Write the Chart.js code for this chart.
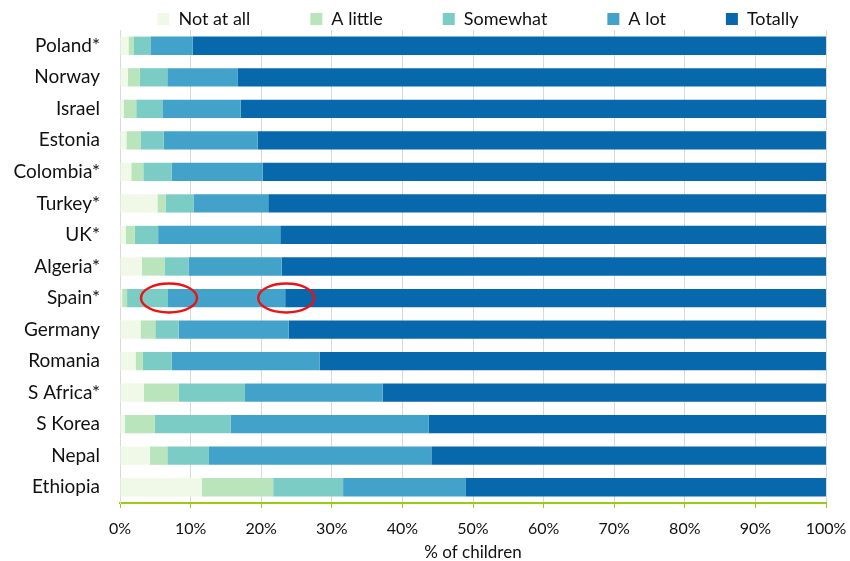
<!DOCTYPE html>
<html>
<head>
<meta charset="utf-8">
<script src="https://cdn.jsdelivr.net/npm/chart.js@4.4.1/dist/chart.umd.min.js"></script>
<style>
  html, body { margin: 0; padding: 0; background: #ffffff; }
  #wrap { width: 850px; height: 561px; position: relative; }
</style>
</head>
<body>
<div id="wrap"><canvas id="c" width="850" height="561"></canvas></div>
<script>
const countries = ["Poland*", "Norway", "Israel", "Estonia", "Colombia*", "Turkey*", "UK*", "Algeria*", "Spain*", "Germany", "Romania", "S Africa*", "S Korea", "Nepal", "Ethiopia"];
const seriesNames = ["Not at all", "A little", "Somewhat", "A lot", "Totally"];
const notAtAll = [1.2, 1.1, 0.5, 0.9, 1.6, 5.3, 0.8, 3.1, 0.3, 2.9, 2.2, 3.4, 0.7, 4.2, 11.6];
const aLittle  = [0.7, 1.7, 1.8, 2.0, 1.7, 1.2, 1.3, 3.2, 0.7, 2.1, 1.0, 4.9, 4.2, 2.5, 10.1];
const somewhat = [2.4, 3.9, 3.7, 3.3, 4.0, 3.9, 3.3, 3.4, 5.8, 3.3, 4.1, 9.4, 10.8, 5.9, 9.9];
const aLot     = [6.0, 10.0, 11.1, 13.3, 12.9, 10.6, 17.3, 13.2, 16.6, 15.6, 21.0, 19.5, 28.0, 31.5, 17.4];
const totally  = [89.7, 83.3, 82.9, 80.5, 79.8, 79.0, 77.3, 77.1, 76.6, 76.1, 71.7, 62.8, 56.3, 55.9, 51.0];
const xTicks = [0, 10, 20, 30, 40, 50, 60, 70, 80, 90, 100];
const colors = ["#f0f9e8", "#bae4bc", "#7bccc4", "#43a2ca", "#0868ac"];
const highlightCountry = "Spain*";
const highlightSeries = [2, 3]; // ellipses at the end of these segments

const seriesData = [notAtAll, aLittle, somewhat, aLot, totally];
const FONT = "Lato, 'Open Sans', sans-serif";
const LEGEND_PAD = 60;

// Keep the legend compact vertically while its items stay widely spaced.
const legendTweak = {
  id: 'legendTweak',
  afterInit(chart) {
    const lg = chart.legend;
    if (!lg || lg._patched) return;
    const fit = lg.fit.bind(lg);
    lg.fit = function () { fit(); this.height = 26; };
    lg._patched = true;
  },
  afterLayout(chart) {
    const lg = chart.legend;
    if (!lg) return;
    lg.top = 10 - LEGEND_PAD;
    lg.bottom = 30;
    lg.left += 65; lg.right += 65;
  }
};

const ellipsePlugin = {
  id: 'ellipses',
  afterDatasetsDraw(chart) {
    const ctx = chart.ctx;
    const xs = chart.scales.x, ys = chart.scales.y;
    const idx = countries.indexOf(highlightCountry);
    const yc = ys.getPixelForValue(idx);
    ctx.save();
    ctx.strokeStyle = "#ee1111";
    ctx.lineWidth = 2.4;
    highlightSeries.forEach(s => {
      let cum = 0;
      for (let k = 0; k <= s; k++) cum += seriesData[k][idx];
      const xc = xs.getPixelForValue(cum);
      ctx.beginPath();
      ctx.ellipse(xc + 1, yc, 28, 14.5, 0, 0, Math.PI * 2);
      ctx.stroke();
    });
    ctx.restore();
  }
};

new Chart(document.getElementById('c'), {
  type: 'bar',
  data: {
    labels: countries,
    datasets: seriesNames.map((n, i) => ({
      label: n,
      data: seriesData[i],
      backgroundColor: colors[i],
      borderWidth: 0,
      barPercentage: 0.58,
      categoryPercentage: 1.0
    }))
  },
  options: {
    indexAxis: 'y',
    responsive: false,
    animation: false,
    layout: { padding: { left: 0, right: 24, top: 4, bottom: 0 } },
    plugins: {
      legend: {
        position: 'top',
        labels: {
          boxWidth: 12, boxHeight: 12, padding: LEGEND_PAD,
          color: '#111',
          font: { family: FONT, size: 18 }
        }
      },
      tooltip: { enabled: false }
    },
    scales: {
      x: {
        stacked: true,
        min: 0, max: 100,
        afterBuildTicks: s => { s.ticks = xTicks.map(v => ({ value: v })); },
        afterFit: s => { s.paddingRight = 0; s.paddingLeft = 0; s.height = 58; },
        ticks: {
          callback: v => v + '%',
          color: '#111',
          font: { family: FONT, size: 16 },
          padding: 11
        },
        grid: { color: '#d9d9d9', lineWidth: 1, tickColor: '#99cc11', tickLength: 5 },
        border: { color: '#99cc11', width: 2 },
        title: { display: true, text: '% of children', color: '#111', font: { family: FONT, size: 17, lineHeight: 1 }, padding: { top: 2, bottom: 0 } }
      },
      y: {
        stacked: true,
        afterFit: s => { s.width = 120; },
        ticks: { color: '#111', font: { family: FONT, size: 19 }, padding: 12 },
        grid: { display: false },
        border: { color: '#d9d9d9', width: 1 }
      }
    }
  },
  plugins: [legendTweak, ellipsePlugin]
});
</script>
</body>
</html>
